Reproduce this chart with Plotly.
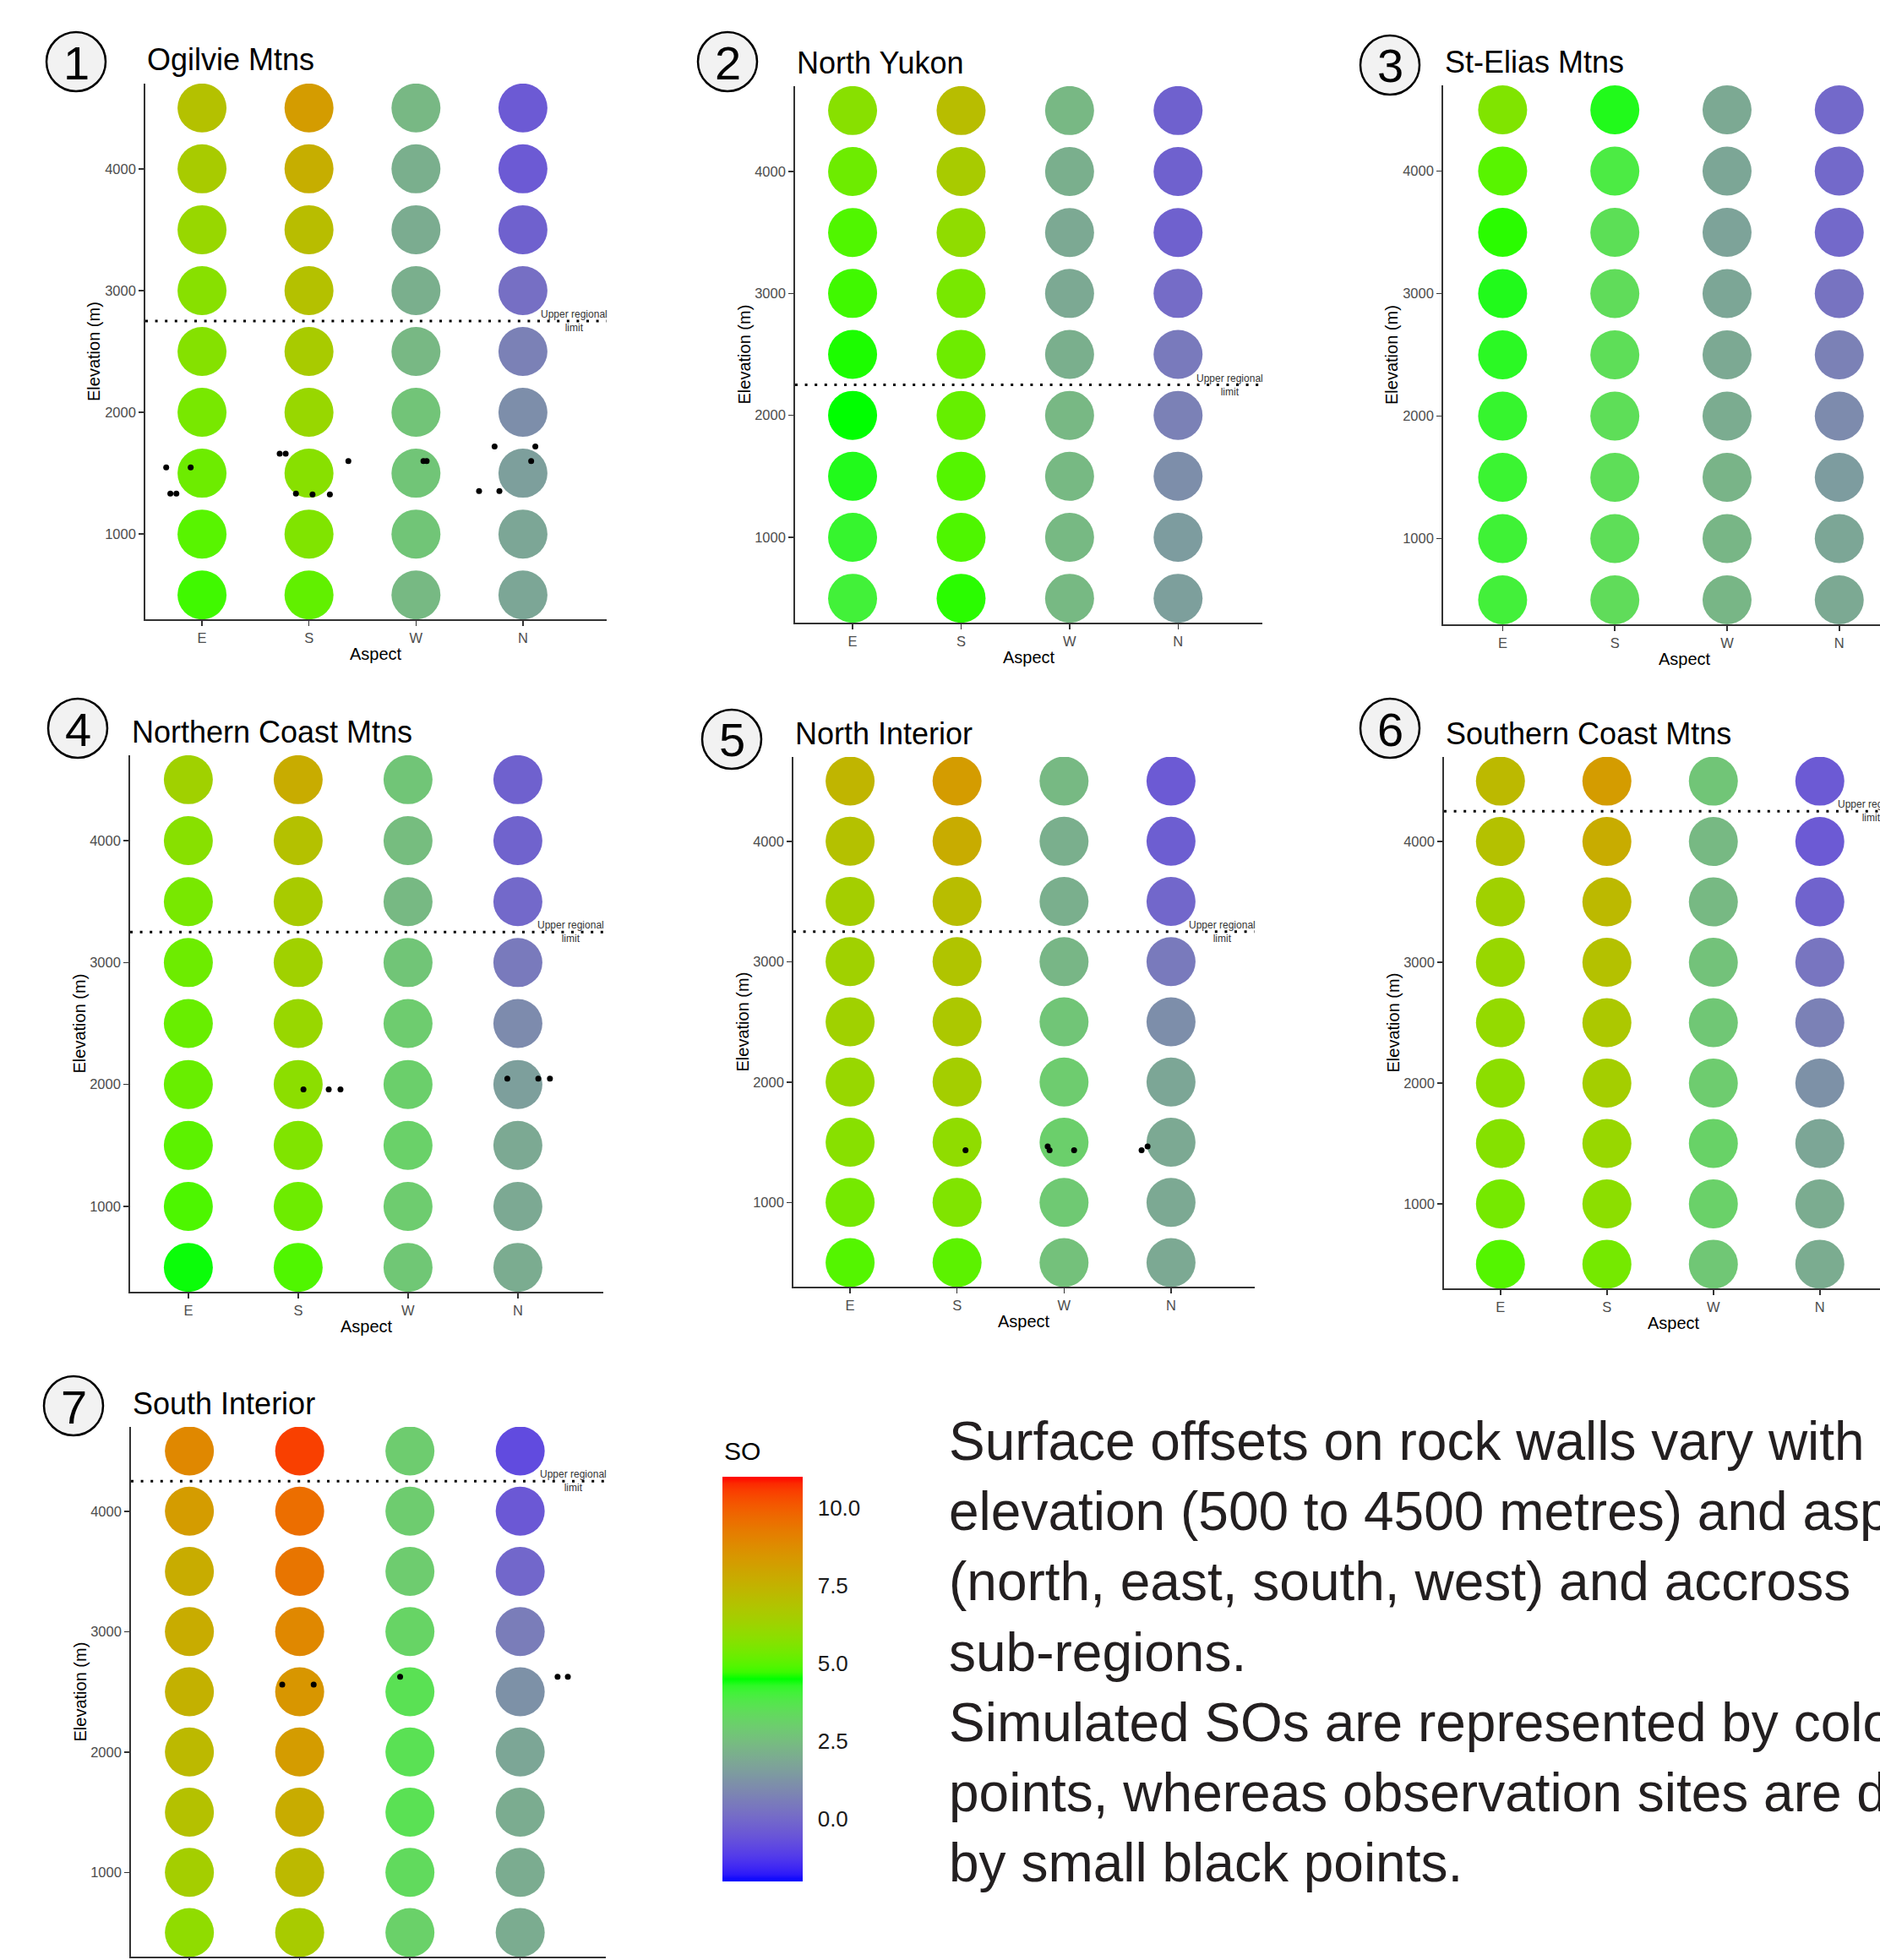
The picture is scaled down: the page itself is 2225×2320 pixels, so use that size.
import plotly.graph_objects as go

W, H = 2225, 2320
FONT = "Liberation Sans, Arial, sans-serif"

# ---------------- data ----------------
aspects = ["E", "S", "W", "N"]
elevations = [500, 1000, 1500, 2000, 2500, 3000, 3500, 4000, 4500]
elev_ticks = [1000, 2000, 3000, 4000]
region_names = ["Ogilvie Mtns", "North Yukon", "St-Elias Mtns", "Northern Coast Mtns",
                "North Interior", "Southern Coast Mtns", "South Interior"]

# simulated surface offsets (SO), one list per aspect E,S,W,N, elevations 500 -> 4500
so_ogilvie = [[4.75, 4.98, 5.27, 5.45, 5.7, 5.77, 6.13, 6.57, 6.97],
              [5.1, 5.6, 5.77, 6.13, 6.57, 6.97, 7.1, 7.65, 8.27],
              [2.4, 2.75, 2.75, 2.7, 2.35, 2.1, 2.0, 2.1, 2.35],
              [1.8, 1.8, 1.6, 1.1, 0.7, 0.2, -0.2, -0.4, -0.4]]
so_north_yukon = [[4.07, 4.2, 4.35, 4.5, 4.6, 4.75, 4.9, 5.27, 5.77],
                  [4.65, 4.88, 4.93, 5.15, 5.27, 5.45, 5.94, 6.57, 7.1],
                  [2.4, 2.4, 2.4, 2.35, 2.1, 1.9, 1.9, 2.1, 2.35],
                  [1.6, 1.5, 1.1, 0.7, 0.5, 0.1, -0.2, -0.2, -0.2]]
so_st_elias = [[4.05, 4.1, 4.15, 4.2, 4.3, 4.35, 4.65, 4.98, 5.6],
               [3.45, 3.5, 3.5, 3.5, 3.5, 3.45, 3.55, 3.9, 4.35],
               [2.3, 2.3, 2.25, 2.0, 1.9, 1.8, 1.7, 1.8, 1.9],
               [1.9, 1.8, 1.5, 1.0, 0.7, 0.3, 0.0, 0.0, 0.0]]
so_northern_coast = [[4.45, 4.87, 5.03, 5.2, 5.2, 5.27, 5.45, 5.77, 6.35],
                     [4.9, 5.27, 5.6, 5.85, 6.13, 6.35, 6.57, 6.97, 7.7],
                     [2.8, 2.95, 3.1, 3.05, 2.95, 2.75, 2.4, 2.5, 2.75],
                     [2.0, 1.9, 1.9, 1.6, 1.0, 0.5, 0.0, -0.15, -0.2]]
so_north_interior = [[4.93, 5.4, 5.77, 6.13, 6.35, 6.35, 6.45, 6.97, 7.4],
                     [5.03, 5.6, 5.94, 6.45, 6.7, 6.83, 7.1, 7.7, 8.27],
                     [2.6, 2.85, 3.05, 2.95, 2.75, 2.3, 2.1, 2.1, 2.4],
                     [1.9, 1.9, 1.9, 1.8, 1.1, 0.5, -0.05, -0.3, -0.4]]
so_southern_coast = [[4.93, 5.4, 5.7, 5.85, 6.03, 6.13, 6.35, 6.97, 7.25],
                     [5.4, 5.85, 6.13, 6.45, 6.7, 6.97, 7.25, 7.7, 8.27],
                     [2.8, 3.1, 3.15, 2.95, 2.8, 2.65, 2.4, 2.4, 2.75],
                     [2.0, 2.0, 1.8, 1.2, 0.7, 0.35, -0.15, -0.4, -0.4]]
so_south_interior = [[5.94, 6.45, 6.97, 7.25, 7.55, 7.7, 7.7, 8.27, 8.9],
                     [6.57, 7.25, 7.7, 8.27, 8.45, 8.9, 9.4, 9.6, 10.5],
                     [3.1, 3.4, 3.6, 3.6, 3.6, 3.2, 2.95, 2.95, 2.95],
                     [2.0, 2.0, 2.0, 1.8, 1.2, 0.6, -0.05, -0.45, -0.8]]

# observation sites (jittered aspect position, elevation in m)
obs_ogilvie_x = [-0.335, -0.106, -0.296, -0.24, 0.726, 0.782, 1.368, 0.878, 1.033, 1.195,
                 2.07, 2.10, 2.735, 3.116, 3.077, 2.59, 2.78]
obs_ogilvie_y = [1547, 1547, 1332, 1332, 1661, 1661, 1599, 1332, 1325, 1325,
                 1599, 1599, 1720, 1720, 1599, 1353, 1353]
obs_northern_coast_x = [1.048, 1.278, 1.385, 2.904, 3.186, 3.292]
obs_northern_coast_y = [1959, 1959, 1959, 2048, 2048, 2048]
obs_north_interior_x = [1.079, 1.847, 1.865, 2.094, 2.725, 2.781]
obs_north_interior_y = [1434, 1465, 1434, 1434, 1434, 1465]
obs_south_interior_x = [0.842, 1.127, 1.911, 3.339, 3.432]
obs_south_interior_y = [2559, 2559, 2625, 2625, 2625]

upper_limits = [2750, 2250, None, 3250, 3250, 4250, 4250]

so_tick_vals = [0, 2.5, 5, 7.5, 10]
so_tick_text = ["0.0", "2.5", "5.0", "7.5", "10.0"]
SO_MIN, SO_MAX = -2.0, 11.0

text_lines = ["Surface offsets on rock walls vary with",
              "elevation (500 to 4500 metres) and aspect",
              "(north, east, south, west) and accross",
              "sub-regions.",
              "Simulated SOs are represented by coloured",
              "points, whereas observation sites are depicted",
              "by small black points."]

so_values = [so_ogilvie, so_north_yukon, so_st_elias, so_northern_coast,
             so_north_interior, so_southern_coast, so_south_interior]
obs = [(obs_ogilvie_x, obs_ogilvie_y), ([], []), ([], []),
       (obs_northern_coast_x, obs_northern_coast_y),
       (obs_north_interior_x, obs_north_interior_y), ([], []),
       (obs_south_interior_x, obs_south_interior_y)]

# ---------------- layout geometry (pixels) ----------------
panels = [
    dict(left=172, top=99, bottom=733, unit=126.6, num=(90, 73)),
    dict(left=941, top=102, bottom=737, unit=128.4, num=(861, 73)),
    dict(left=1708, top=101, bottom=739, unit=132.8, num=(1645, 77)),
    dict(left=154, top=894, bottom=1529, unit=130.0, num=(92, 862)),
    dict(left=939, top=896, bottom=1523, unit=126.6, num=(866, 875)),
    dict(left=1709, top=896, bottom=1525, unit=126.0, num=(1645, 862)),
    dict(left=155, top=1689, bottom=2316, unit=130.5, num=(87, 1664)),
]
X_LO, X_HI = -0.53, 3.78
Y_RANGE = [300, 4700]


# ---------------- Lab colour ramp (blue -> green -> red) ----------------
def _lin(c):
    c = c / 255.0
    return c / 12.92 if c <= 0.04045 else ((c + 0.055) / 1.055) ** 2.4


def _gam(c):
    c = min(max(c, 0.0), 1.0)
    v = 12.92 * c if c <= 0.0031308 else 1.055 * c ** (1 / 2.4) - 0.055
    return int(round(min(max(v, 0.0), 1.0) * 255))


def rgb_to_lab(rgb):
    r, g, b = [_lin(v) for v in rgb]
    X = (0.4124564 * r + 0.3575761 * g + 0.1804375 * b) / 0.95047
    Y = (0.2126729 * r + 0.7151522 * g + 0.0721750 * b)
    Z = (0.0193339 * r + 0.1191920 * g + 0.9503041 * b) / 1.08883

    def f(t):
        return t ** (1 / 3) if t > 216 / 24389 else (24389 / 27 * t + 16) / 116
    fx, fy, fz = f(X), f(Y), f(Z)
    return (116 * fy - 16, 500 * (fx - fy), 200 * (fy - fz))


def lab_to_rgb(lab):
    L, a, b = lab
    fy = (L + 16) / 116
    fx = fy + a / 500
    fz = fy - b / 200

    def finv(t):
        return t ** 3 if t ** 3 > 216 / 24389 else (116 * t - 16) / (24389 / 27)
    X, Y, Z = 0.95047 * finv(fx), finv(fy), 1.08883 * finv(fz)
    r = 3.2404542 * X - 1.5371385 * Y - 0.4985314 * Z
    g = -0.9692660 * X + 1.8760108 * Y + 0.0415560 * Z
    bb = 0.0556434 * X - 0.2040259 * Y + 1.0572252 * Z
    return tuple(_gam(v) for v in (r, g, bb))


anchors = [rgb_to_lab((0, 0, 255)), rgb_to_lab((0, 255, 0)), rgb_to_lab((255, 0, 0))]
colorscale = []
N_STEPS = 60
for s in range(N_STEPS + 1):
    t = s / N_STEPS
    seg = 0 if t < 0.5 else 1
    u = (t - 0.5 * seg) / 0.5
    lab = tuple(anchors[seg][k] + (anchors[seg + 1][k] - anchors[seg][k]) * u for k in range(3))
    r, g, b = lab_to_rgb(lab)
    colorscale.append([t, f"rgb({r},{g},{b})"])

# ---------------- figure ----------------
fig = go.Figure()
shapes = []
annotations = []


def px(x):
    return x / W


def py(y):
    return 1 - y / H


for i, geo in enumerate(panels):
    n = i + 1
    xa = "x" if n == 1 else f"x{n}"
    ya = "y" if n == 1 else f"y{n}"
    xs, ys, cs = [], [], []
    for j in range(len(aspects)):
        for k, elev in enumerate(elevations):
            xs.append(j)
            ys.append(elev)
            cs.append(so_values[i][j][k])
    fig.add_trace(go.Scatter(
        x=xs, y=ys, mode="markers", xaxis=xa, yaxis=ya, showlegend=False,
        marker=dict(size=58, color=cs, coloraxis="coloraxis", line=dict(width=0)),
        hoverinfo="skip"))
    ox, oy = obs[i]
    if ox:
        fig.add_trace(go.Scatter(
            x=ox, y=oy, mode="markers", xaxis=xa, yaxis=ya, showlegend=False,
            marker=dict(size=7, color="black", line=dict(width=0)), hoverinfo="skip"))

    full_right = geo["left"] + (X_HI - X_LO) * geo["unit"]
    right = min(full_right, W)
    x_hi = X_LO + (right - geo["left"]) / geo["unit"]
    # the bottom panel's x labels fall below the page edge (as in the source figure)
    x_labels_fit = geo["bottom"] + 30 < H
    axis_style = dict(showline=True, linecolor="#333333", linewidth=1.8, mirror=False,
                      ticks="outside", ticklen=6, tickwidth=1.5, tickcolor="#333333",
                      showgrid=False, zeroline=False, automargin=False,
                      tickfont=dict(family=FONT, size=16.5, color="#4d4d4d"))
    fig.layout[("xaxis" if n == 1 else f"xaxis{n}")] = dict(
        domain=[px(geo["left"]), px(right)], anchor=ya, range=[X_LO, x_hi],
        tickvals=list(range(len(aspects))), ticktext=aspects,
        showticklabels=x_labels_fit, **axis_style)
    fig.layout[("yaxis" if n == 1 else f"yaxis{n}")] = dict(
        domain=[py(geo["bottom"]), py(geo["top"])], anchor=xa, range=Y_RANGE,
        tickvals=elev_ticks, **axis_style)

    lim = upper_limits[i]
    if lim is not None:
        shapes.append(dict(type="line", xref=f"{xa} domain", yref=ya, x0=0, x1=1,
                           y0=lim, y1=lim, layer="above",
                           line=dict(color="black", width=3, dash="3px,8.6px")))
        annotations.append(dict(xref=xa, yref=ya, x=3.48, y=lim, showarrow=False,
                                text="Upper regional<br>limit", xanchor="center",
                                yanchor="middle", align="center",
                                font=dict(family=FONT, size=12, color="#333333")))

    annotations.append(dict(xref="paper", yref="paper", x=px(geo["left"]),
                            y=py(geo["top"] - 28), text=region_names[i], showarrow=False,
                            xanchor="left", yanchor="middle",
                            font=dict(family=FONT, size=36, color="black")))
    annotations.append(dict(xref="paper", yref="paper", x=px(geo["left"] - 61),
                            y=py((geo["top"] + geo["bottom"]) / 2), text="Elevation (m)",
                            textangle=-90, showarrow=False, xanchor="center",
                            yanchor="middle", font=dict(family=FONT, size=20, color="black")))
    if x_labels_fit:
        annotations.append(dict(xref="paper", yref="paper",
                                x=px((geo["left"] + full_right) / 2), y=py(geo["bottom"] + 41),
                                text="Aspect", showarrow=False, xanchor="center",
                                yanchor="middle",
                                font=dict(family=FONT, size=20, color="black")))

    cx, cy = geo["num"]
    r = 35
    shapes.append(dict(type="circle", xref="paper", yref="paper",
                       x0=px(cx - r), x1=px(cx + r), y0=py(cy + r), y1=py(cy - r),
                       fillcolor="#f2f2f2", line=dict(color="black", width=2.5),
                       layer="above"))
    annotations.append(dict(xref="paper", yref="paper", x=px(cx), y=py(cy + 1),
                            text=str(n), showarrow=False, xanchor="center",
                            yanchor="middle", font=dict(family=FONT, size=56, color="black")))

# colour bar
CB_LEFT, CB_TOP, CB_BOTTOM, CB_W = 855, 1748, 2227, 95
cb_len = CB_BOTTOM - CB_TOP
fig.update_layout(coloraxis=dict(
    colorscale=colorscale, cmin=SO_MIN, cmax=SO_MAX,
    colorbar=dict(thickness=CB_W, thicknessmode="pixels", len=cb_len, lenmode="pixels",
                  x=px(CB_LEFT), xanchor="left", y=py((CB_TOP + CB_BOTTOM) / 2),
                  yanchor="middle", xpad=0, ypad=0, outlinewidth=0,
                  tickvals=so_tick_vals, ticktext=so_tick_text, ticks="outside",
                  ticklen=13, tickwidth=1, tickcolor="rgba(0,0,0,0)",
                  tickfont=dict(family=FONT, size=26, color="#1a1a1a"))))
# white guide ticks inside both edges of the bar
for v in so_tick_vals:
    yy = CB_BOTTOM - (v - SO_MIN) / (SO_MAX - SO_MIN) * cb_len
    for xa0, xa1 in ((CB_LEFT, CB_LEFT + 18), (CB_LEFT + CB_W - 20, CB_LEFT + CB_W)):
        shapes.append(dict(type="line", xref="paper", yref="paper", x0=px(xa0),
                           x1=px(xa1), y0=py(yy), y1=py(yy), layer="above",
                           line=dict(color="white", width=1.2)))
annotations.append(dict(xref="paper", yref="paper", x=px(CB_LEFT), y=py(1717), text="SO",
                        showarrow=False, xanchor="left", yanchor="middle",
                        font=dict(family=FONT, size=30, color="black")))

annotations.append(dict(xref="paper", yref="paper", x=px(1121), y=py(1955),
                        text="<br>".join(text_lines), showarrow=False, xanchor="left",
                        yanchor="middle", align="left",
                        font=dict(family=FONT, size=64, color="#231f20")))

fig.update_layout(width=W, height=H, margin=dict(l=0, r=0, t=0, b=0, autoexpand=False),
                  paper_bgcolor="white", plot_bgcolor="white",
                  shapes=shapes, annotations=annotations, hovermode=False)

fig.write_html(
    "out.html",
    config={"displayModeBar": False, "staticPlot": True},
    post_script=(
        "var gd=document.getElementById('{plot_id}');"
        "gd.style.position='absolute';gd.style.left='0px';gd.style.top='0px';"
        "document.body.style.margin='0px';document.body.style.padding='0px';"
        "document.documentElement.style.overflow='hidden';"
    ),
)
